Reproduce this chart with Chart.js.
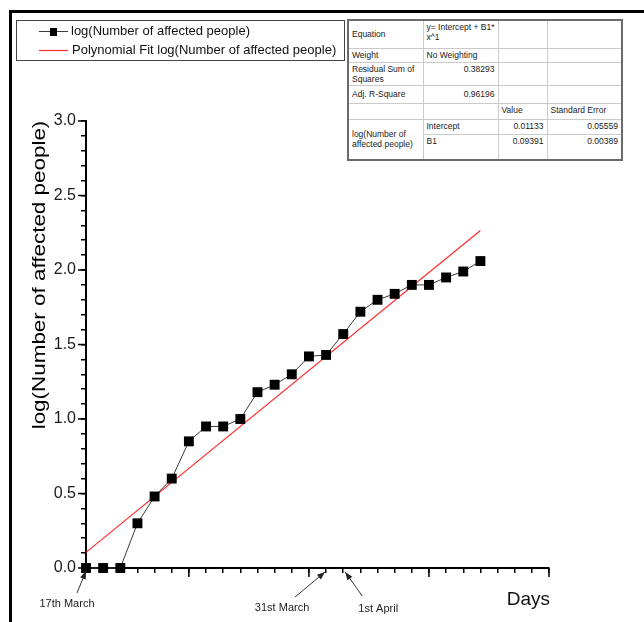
<!DOCTYPE html>
<html>
<head>
<meta charset="utf-8">
<title>log(Number of affected people) vs Days</title>
<script src="https://cdn.jsdelivr.net/npm/chart.js@4.4.1/dist/chart.umd.min.js"></script>
<style>
  html, body { margin: 0; padding: 0; background: #fff; overflow: hidden; }
  #wrap { position: relative; width: 644px; height: 622px; overflow: hidden; }
  #frame { position: absolute; left: 9px; top: 10px; width: 700px; height: 700px;
           border-top: 3px solid #000; border-left: 3px solid #000; }
  #chart { position: absolute; left: 0; top: 0; }
  #stats { position: absolute; left: 347px; top: 19px; width: 274px; table-layout: fixed;
           border-collapse: collapse; border: 2px solid #6b6b6b; background: #fff;
           font: 8.5px "Liberation Sans", Arial, sans-serif; color: #1a1a1a; }
  #stats td { border: 1px solid #cacaca; padding: 1px 3px; line-height: 10px;
              vertical-align: top; white-space: nowrap; overflow: hidden; }
  #stats td.r { text-align: right; }
  #stats td.m { vertical-align: middle; }
</style>
</head>
<body>
<div id="wrap">
  <div id="frame"></div>
  <canvas id="chart" width="644" height="622"></canvas>
  <table id="stats">
    <colgroup><col style="width:75px"><col style="width:75px"><col style="width:49px"><col style="width:75px"></colgroup>
    <tr style="height:28px"><td class="m">Equation</td><td>y= Intercept + B1*<br>x^1</td><td></td><td></td></tr>
    <tr style="height:14px"><td>Weight</td><td>No Weighting</td><td></td><td></td></tr>
    <tr style="height:23px"><td>Residual Sum of<br>Squares</td><td class="r">0.38293</td><td></td><td></td></tr>
    <tr style="height:18px"><td class="m">Adj. R-Square</td><td class="r m">0.96196</td><td></td><td></td></tr>
    <tr style="height:16px"><td></td><td></td><td>Value</td><td>Standard Error</td></tr>
    <tr style="height:15px"><td rowspan="2" class="m">log(Number of<br>affected people)</td><td>Intercept</td><td class="r">0.01133</td><td class="r">0.05559</td></tr>
    <tr style="height:26px"><td>B1</td><td class="r">0.09391</td><td class="r">0.00389</td></tr>
  </table>
</div>
<script>
// data
const days = [1, 2, 3, 4, 5, 6, 7, 8, 9, 10, 11, 12, 13, 14, 15, 16, 17, 18, 19, 20, 21, 22, 23, 24];
const logAffected = [0, 0, 0, 0.30, 0.48, 0.60, 0.85, 0.95, 0.95, 1.00, 1.18, 1.23,
                     1.30, 1.42, 1.43, 1.57, 1.72, 1.80, 1.84, 1.90, 1.90, 1.95, 1.99, 2.06];
const fitDays = [1, 24];
const fitValues = [0.105, 2.265];
const yMajorTicks = [0, 0.5, 1, 1.5, 2, 2.5, 3];
const xMajorTicks = [7, 14, 21, 28];
const noteLabels = ['17th March', '31st March', '1st April'];
const noteDays = [1, 15, 16];
const seriesLabel = 'log(Number of affected people)';
const fitLabel = 'Polynomial Fit log(Number of affected people)';
const yTitle = 'log(Number of affected people)';
const xTitle = 'Days';

const FONT = '"Liberation Sans", Arial, sans-serif';

function arrow(ctx, x1, y1, x2, y2) {
    ctx.beginPath();
    ctx.moveTo(x1, y1);
    ctx.lineTo(x2, y2);
    ctx.stroke();
    const a = Math.atan2(y2 - y1, x2 - x1), len = 8, w = 3;
    ctx.beginPath();
    ctx.moveTo(x2, y2);
    ctx.lineTo(x2 - len * Math.cos(a) + w * Math.sin(a), y2 - len * Math.sin(a) - w * Math.cos(a));
    ctx.lineTo(x2 - len * Math.cos(a) - w * Math.sin(a), y2 - len * Math.sin(a) + w * Math.cos(a));
    ctx.closePath();
    ctx.fill();
}

// long major ticks, titles, day notes and the legend box
const decor = {
    id: 'decor',
    afterDraw(chart) {
        const {ctx, scales: {x, y}} = chart;
        const ds = chart.data.datasets;
        ctx.save();

        ctx.strokeStyle = '#000';
        ctx.lineWidth = 1.5;
        ctx.beginPath();
        yMajorTicks.forEach(v => {
            const py = y.getPixelForValue(v);
            ctx.moveTo(x.left - 8, py);
            ctx.lineTo(x.left, py);
        });
        xMajorTicks.forEach(v => {
            const px = x.getPixelForValue(v);
            ctx.moveTo(px, y.bottom);
            ctx.lineTo(px, y.bottom + 9);
        });
        ctx.stroke();

        // y title, a little stretched like the original
        ctx.save();
        ctx.translate(40, 275);
        ctx.rotate(-Math.PI / 2);
        ctx.scale(1.18, 1);
        ctx.font = '19px ' + FONT;
        ctx.fillStyle = '#000';
        ctx.textAlign = 'center';
        ctx.textBaseline = 'middle';
        ctx.fillText(yTitle, 0, 0);
        ctx.restore();

        ctx.font = '19px ' + FONT;
        ctx.fillStyle = '#111';
        ctx.textAlign = 'right';
        ctx.textBaseline = 'alphabetic';
        ctx.fillText(xTitle, x.right + 1, 605);

        // notes under the axis: [tipDx, tipY, tailDx, tailY, textDx, textY]
        const notePos = [
            [0, 571, -9, 593, -19, 607],
            [-1, 572, -31, 597, -44, 611],
            [2, 572, 19, 596, 35, 612],
        ];
        ctx.font = '11px ' + FONT;
        ctx.textAlign = 'center';
        ctx.strokeStyle = '#333';
        ctx.fillStyle = '#222';
        ctx.lineWidth = 1;
        noteDays.forEach((d, i) => {
            const px = x.getPixelForValue(d);
            const p = notePos[i];
            arrow(ctx, px + p[2], p[3], px + p[0], p[1]);
            ctx.fillText(noteLabels[i], px + p[4], p[5]);
        });

        // legend
        ctx.strokeStyle = '#444';
        ctx.lineWidth = 1;
        ctx.strokeRect(16.5, 20.5, 328, 40);
        ctx.strokeStyle = ds[0].borderColor;
        ctx.beginPath();
        ctx.moveTo(39, 31.5);
        ctx.lineTo(68, 31.5);
        ctx.stroke();
        ctx.fillStyle = ds[0].pointBackgroundColor;
        ctx.fillRect(50, 28, 7, 8);
        ctx.strokeStyle = ds[1].borderColor;
        ctx.lineWidth = ds[1].borderWidth;
        ctx.beginPath();
        ctx.moveTo(39, 50.5);
        ctx.lineTo(68, 50.5);
        ctx.stroke();
        ctx.font = '13px ' + FONT;
        ctx.fillStyle = '#111';
        ctx.textAlign = 'left';
        ctx.textBaseline = 'middle';
        ctx.fillText(ds[0].label, 71, 31.5);
        ctx.fillText(ds[1].label, 72, 50.5);

        ctx.restore();
    }
};

new Chart(document.getElementById('chart'), {
    type: 'line',
    data: {
        datasets: [{
            label: seriesLabel,
            data: days.map((d, i) => ({x: d, y: logAffected[i]})),
            borderColor: '#3a3a3a',
            borderWidth: 1,
            pointStyle: 'rect',
            pointRadius: 7,
            pointBackgroundColor: '#000',
            pointBorderColor: '#000',
            pointBorderWidth: 0,
            clip: false,
        }, {
            label: fitLabel,
            data: fitDays.map((d, i) => ({x: d, y: fitValues[i]})),
            borderColor: '#ff2a2a',
            borderWidth: 1.2,
            pointRadius: 0,
            clip: false,
        }],
    },
    options: {
        responsive: false,
        animation: false,
        layout: {
            padding: {top: 121, right: 95, bottom: 0, left: 0},
        },
        plugins: {
            legend: {display: false},
            tooltip: {enabled: false},
        },
        scales: {
            x: {
                type: 'linear',
                min: 1,
                max: 28,
                afterFit(scale) { scale.height = 54; },
                ticks: {stepSize: 1, autoSkip: false, display: false},
                grid: {drawOnChartArea: false, tickLength: 5, color: '#000', lineWidth: 1.5},
                border: {color: '#000', width: 2},
            },
            y: {
                min: 0,
                max: 3,
                afterFit(scale) { scale.width = 86; },
                ticks: {
                    stepSize: 0.1,
                    autoSkip: false,
                    padding: 5,
                    color: '#1a1a1a',
                    font: {family: FONT, size: 16},
                    callback: v => Math.abs(v * 2 - Math.round(v * 2)) < 1e-6 ? v.toFixed(1) : '',
                },
                grid: {drawOnChartArea: false, tickLength: 5, color: '#000', lineWidth: 1.5},
                border: {color: '#000', width: 2},
            },
        },
    },
    plugins: [decor],
});
</script>
</body>
</html>
